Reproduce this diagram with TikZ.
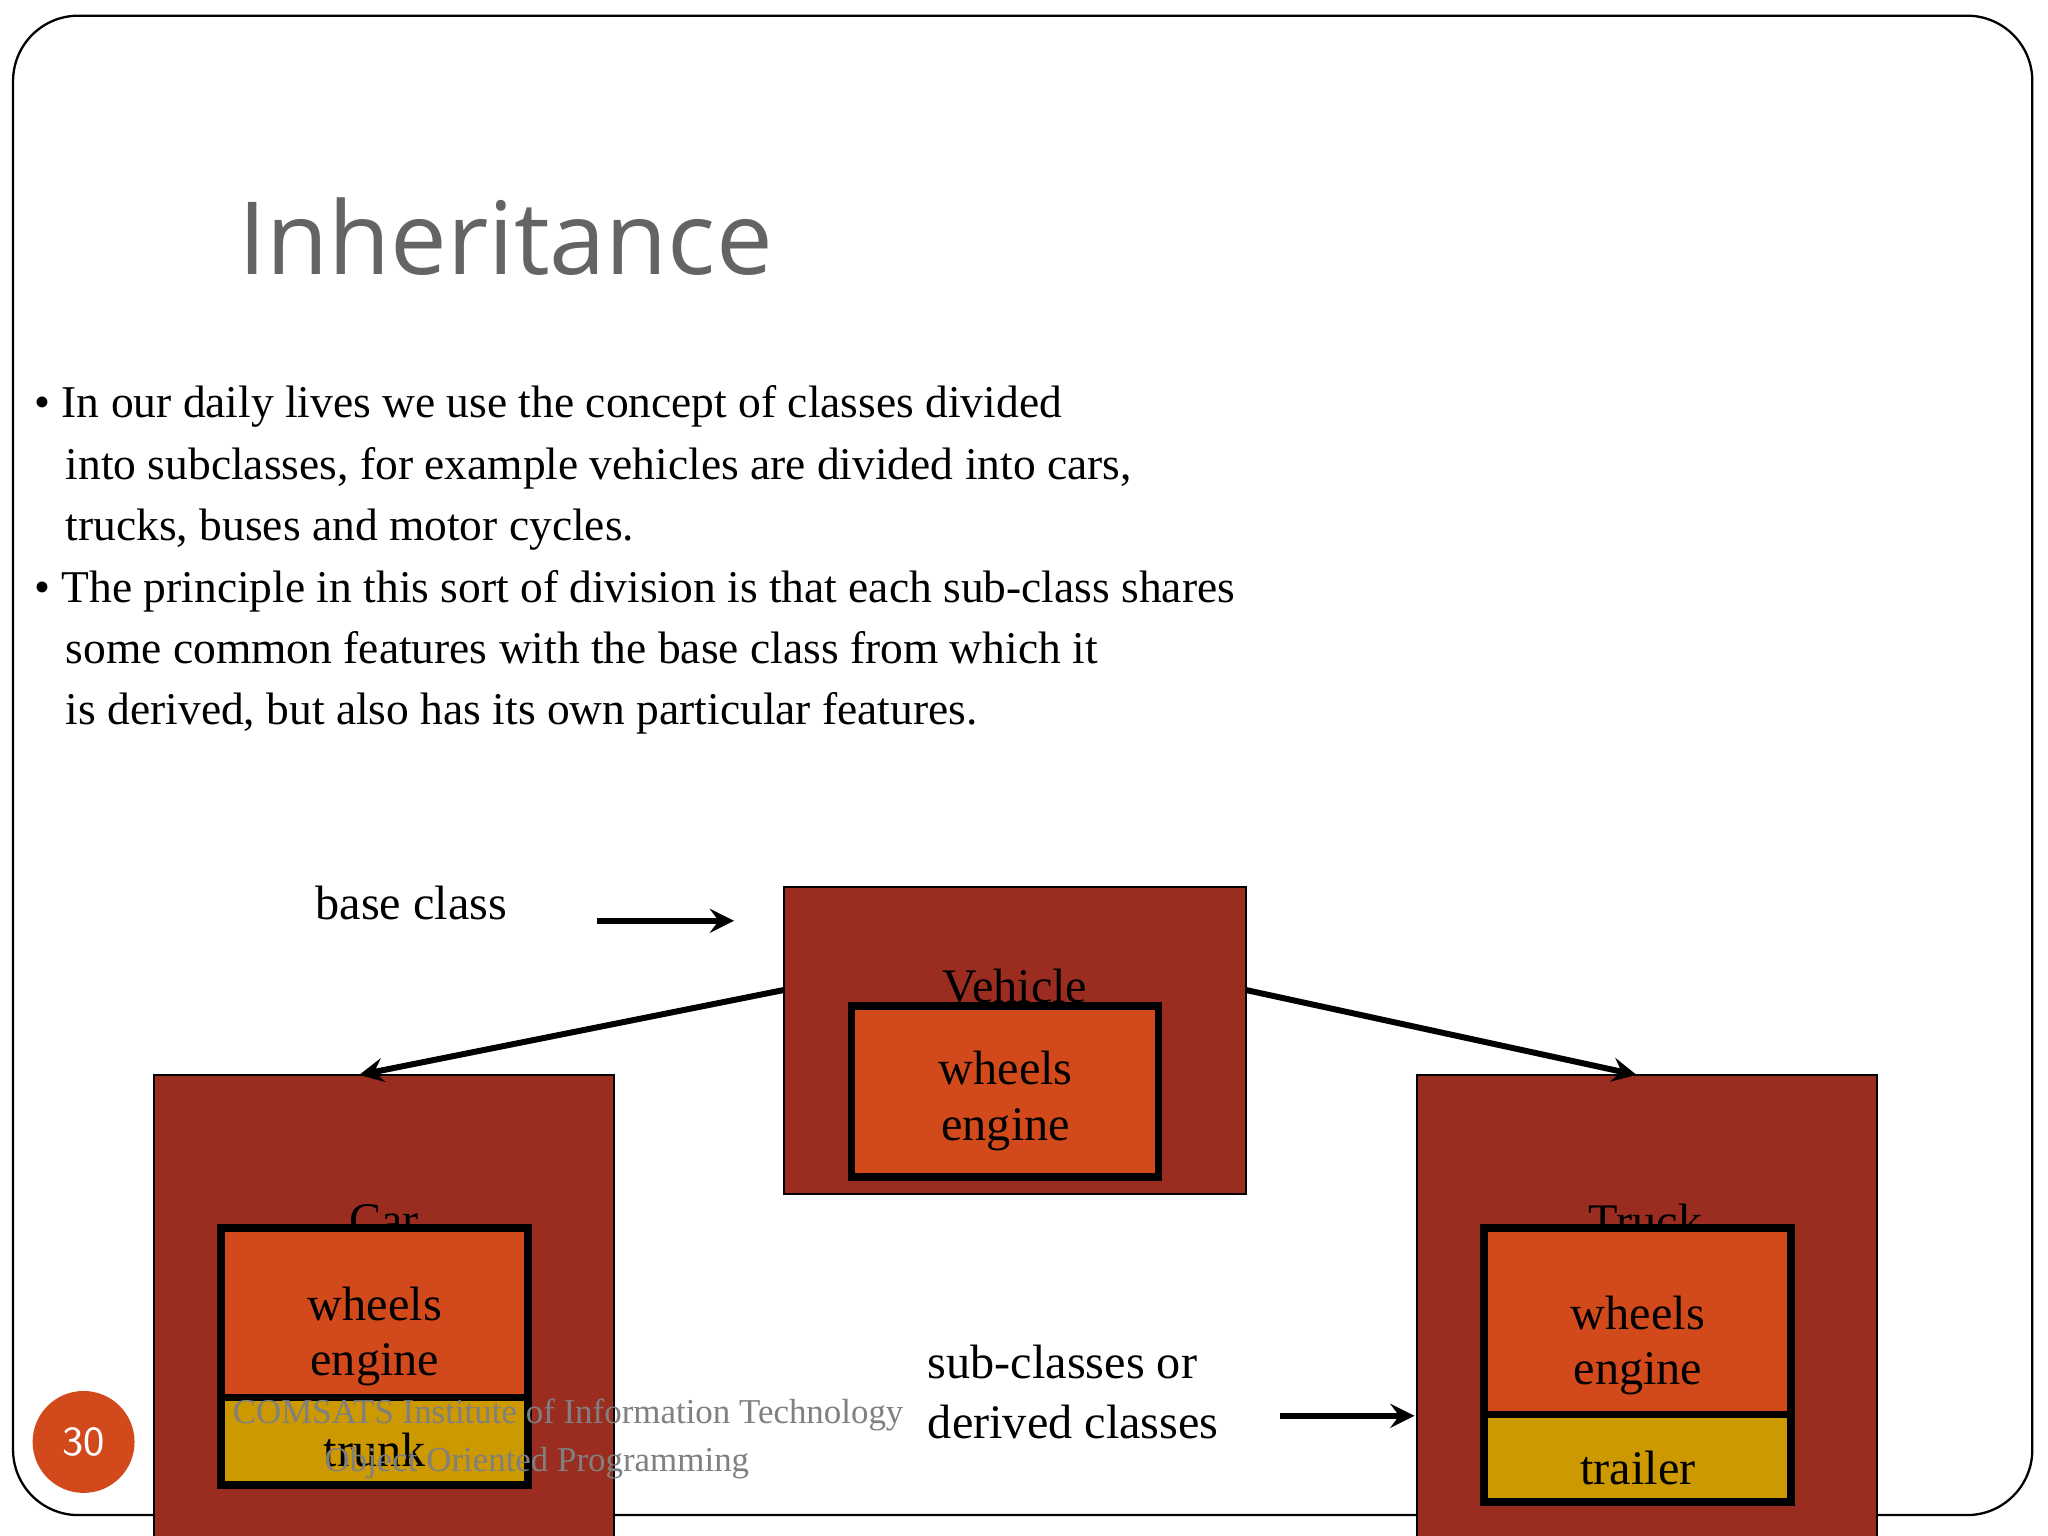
\documentclass[tikz,border=0pt]{standalone}
\usepackage{fontspec}
\setmainfont{Liberation Serif}
\newfontfamily\titlefont{Open Sans}
\begin{document}
\begin{tikzpicture}[x={(0.01cm,0)},y={(0,-0.01cm)},
  outer/.style={draw=black,line width=0.4pt,fill={rgb,255:red,155;green,45;blue,32}},
  inner/.style={draw=black,line width=1.7pt,fill={rgb,255:red,210;green,74;blue,28}},
  extra/.style={draw=black,line width=1.7pt,fill={rgb,255:red,204;green,153;blue,0}},
  lbl/.style={font=\fontsize{10.5}{13}\selectfont},
  body/.style={anchor=base west,font=\fontsize{9.9}{12}\selectfont},
  arr/.style={line width=1.3pt,-stealth},
  foot/.style={font=\fontsize{7.6}{9}\selectfont,text=gray}]
\useasboundingbox (0,0) rectangle (1568,1176);
\fill[white] (0,0) rectangle (1568,1176);
\draw[line width=0.5pt,rounded corners=0.5cm] (10,12) rectangle (1556,1160);
\node[anchor=base west,font=\titlefont\fontsize{22}{26}\selectfont,text={rgb,255:red,100;green,100;blue,100}] (t) at (170,210) {Inheritance};
\node[body] (l1) at (14,320) {\textbullet\ In our daily lives we use the concept of classes divided};
\node[body] (l2) at (38,367) {into subclasses, for example vehicles are divided into cars,};
\node[body] (l3) at (38,414) {trucks, buses and motor cycles.};
\node[body] (l4) at (14,461) {\textbullet\ The principle in this sort of division is that each sub-class shares};
\node[body] (l5) at (38,508) {some common features with the base class from which it};
\node[body] (l6) at (38,555) {is derived, but also has its own particular features.};
% Vehicle
\path[outer] (600,679) rectangle (954,914);
\coordinate (vl) at (600,758); \coordinate (vr) at (954,758);
\node[lbl] (vt) at (777,755) {Vehicle};
\path[inner] (652,770) rectangle (887,901);
\node[lbl] (v1) at (770,818) {wheels};
\node[lbl] (v2) at (770,865) {engine};
% Car
\path[outer] (118,823) rectangle (470,1190);
\coordinate (ct) at (275,823);
\node[lbl] (cl) at (294,935) {Car};
\path[inner] (169,940) rectangle (404,1070);
\path[extra] (169,1070) rectangle (404,1137);
\node[lbl] (c1) at (287,998) {wheels};
\node[lbl] (c2) at (287,1045) {engine};
\node[lbl] (c3) at (287,1110) {trunk};
% Truck
\path[outer] (1085,823) rectangle (1437,1190);
\coordinate (tt) at (1253,823);
\node[lbl] (tl) at (1260,935) {Truck};
\path[inner] (1136,940) rectangle (1371,1083);
\path[extra] (1136,1083) rectangle (1371,1150);
\node[lbl] (t1) at (1254,1005) {wheels};
\node[lbl] (t2) at (1254,1052) {engine};
\node[lbl] (t3) at (1254,1124) {trailer};
\draw[arr] (vl) -- (ct);
\draw[arr] (vr) -- (tt);
\node[lbl] (bc) at (315,691) {base class};
\coordinate (b1) at (457,705); \coordinate (b2) at (562,705);
\draw[arr] (b1) -- (b2);
\node[lbl,align=left,anchor=west] (sc) at (698,1066) {sub-classes or\\derived classes};
\coordinate (s1) at (980,1084); \coordinate (s2) at (1083,1084);
\draw[arr] (s1) -- (s2);
\node[circle,fill={rgb,255:red,210;green,74;blue,28},minimum size=0.78cm,inner sep=0,text=white,font=\sffamily\fontsize{9}{11}\selectfont] (pn) at (64,1104) {30};
\node[foot] (f1) at (435,1083) {COMSATS Institute of Information Technology};
\node[foot] (f2) at (411,1120) {Object Oriented Programming};
\end{tikzpicture}
\end{document}
